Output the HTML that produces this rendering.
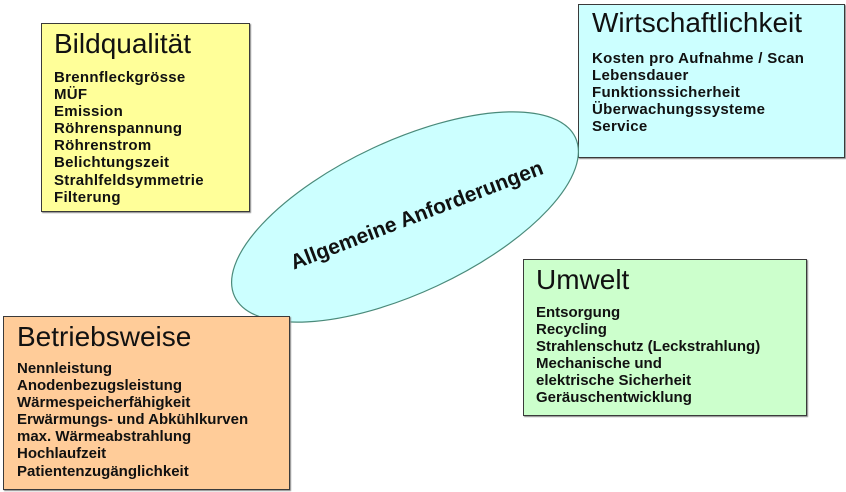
<!DOCTYPE html>
<html><head><meta charset="utf-8"><style>
body{margin:0;width:846px;height:492px;background:#fff;position:relative;overflow:hidden;font-family:"Liberation Sans",Arial,sans-serif}
.b{position:absolute;border:1.5px solid #3a3a3a;box-sizing:border-box;box-shadow:1px 1px 1px #888}
.t{position:absolute;font-size:28px;color:#111;white-space:nowrap}
.l{position:absolute;font-size:15px;letter-spacing:0.3px;font-weight:bold;line-height:17.1px;color:#111;white-space:nowrap}
</style></head><body>
<div class="b" style="left:41px;top:23px;width:209px;height:189px;background:#ffff99"></div>
<div class="t" style="left:54px;top:28px">Bildqualität</div>
<div class="l" style="left:54px;top:69px">Brennfleckgrösse<br>MÜF<br>Emission<br>Röhrenspannung<br>Röhrenstrom<br>Belichtungszeit<br>Strahlfeldsymmetrie<br>Filterung</div>

<div class="b" style="left:578px;top:4px;width:267px;height:154px;background:#ccffff"></div>
<div class="t" style="left:592px;top:7px">Wirtschaftlichkeit</div>
<div class="l" style="left:592px;top:50px">Kosten pro Aufnahme / Scan<br>Lebensdauer<br>Funktionssicherheit<br>Überwachungssysteme<br>Service</div>

<svg style="position:absolute;left:0;top:0" width="846" height="492">
<ellipse cx="405" cy="217" rx="188" ry="76" transform="rotate(-25 405 217)" fill="#ccffff" stroke="#4a8a7a" stroke-width="1.2"/>
<text x="417" y="222" text-anchor="middle" transform="rotate(-21 417 216)" font-family="Liberation Sans, sans-serif" font-weight="bold" font-size="21" fill="#111">Allgemeine Anforderungen</text>
</svg>

<div class="b" style="left:523px;top:259px;width:284px;height:157px;background:#ccffcc"></div>
<div class="t" style="left:536px;top:264px">Umwelt</div>
<div class="l" style="left:536px;top:304px;letter-spacing:0">Entsorgung<br>Recycling<br>Strahlenschutz (Leckstrahlung)<br>Mechanische und<br>elektrische Sicherheit<br>Geräuschentwicklung</div>

<div class="b" style="left:3px;top:316px;width:287px;height:174px;background:#ffcc99"></div>
<div class="t" style="left:17px;top:321px">Betriebsweise</div>
<div class="l" style="left:17px;top:360px;letter-spacing:0">Nennleistung<br>Anodenbezugsleistung<br>Wärmespeicherfähigkeit<br>Erwärmungs- und Abkühlkurven<br>max. Wärmeabstrahlung<br>Hochlaufzeit<br>Patientenzugänglichkeit</div>
</body></html>
